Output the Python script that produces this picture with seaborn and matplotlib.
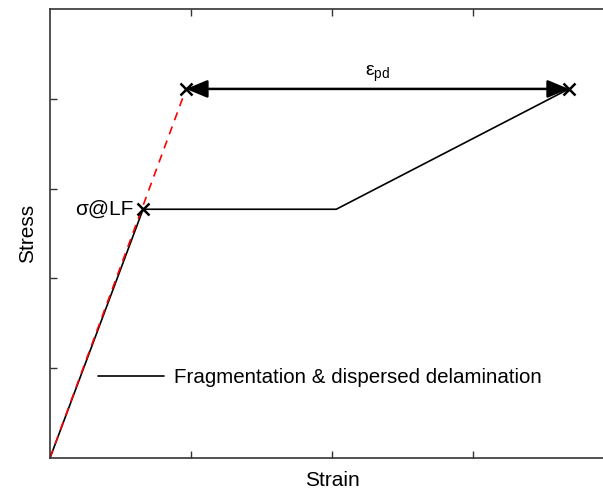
import matplotlib
matplotlib.use("Agg")
import matplotlib.pyplot as plt
import seaborn as sns
import pandas as pd

# Stress-strain response (arbitrary units)
strain_response = [0.0, 0.66, 2.03, 3.68]
stress_response = [0.0, 2.77, 2.77, 4.11]

# Linear-elastic extrapolation
strain_elastic = [0.0, 0.965]
stress_elastic = [0.0, 4.11]

# Marked points: first fragmentation, elastic limit, final failure
mark_strain = [0.66, 0.965, 3.68]
mark_stress = [2.77, 4.11, 4.11]

x_ticks = [1, 2, 3]
y_ticks = [1, 2, 3, 4]

sns.set_style("ticks")
plt.rcParams["font.family"] = ["Liberation Sans", "DejaVu Sans"]
plt.rcParams["text.color"] = "black"
plt.rcParams["axes.labelcolor"] = "black"

fig = plt.figure(figsize=(6.03, 4.91), dpi=100)
ax = fig.add_axes([50 / 603, 33 / 491, 564 / 603, 449 / 491])

resp = pd.DataFrame({"strain": strain_response, "stress": stress_response})
elas = pd.DataFrame({"strain": strain_elastic, "stress": stress_elastic})

sns.lineplot(data=resp, x="strain", y="stress", sort=False, color="black",
             lw=1.2, ax=ax, label="Fragmentation & dispersed delamination")
sns.lineplot(data=elas, x="strain", y="stress", sort=False, color="#ff0000",
             lw=1.2, ax=ax, dashes=False, legend=False)
ax.lines[-1].set_linestyle((0, (5, 4)))

ax.plot(mark_strain, mark_stress, ls="none", marker="x", ms=9, mew=1.8,
        color="black", zorder=5)

ax.annotate("", xy=(mark_strain[2], mark_stress[2]),
            xytext=(mark_strain[1], mark_stress[1]),
            arrowprops=dict(arrowstyle="<|-|>,head_length=0.65,head_width=0.27",
                            color="black", lw=1.8,
                            mutation_scale=20, shrinkA=0, shrinkB=0))
ax.text((mark_strain[1] + mark_strain[2]) / 2, mark_stress[1] + 0.06,
        r"ε$_\mathregular{pd}$", ha="center", va="bottom", fontsize=14)
ax.text(mark_strain[0] - 0.07, mark_stress[0], "σ@LF", ha="right",
        va="center", fontsize=15)

ax.set_xlim(0, 4)
ax.set_ylim(0, 5)
ax.set_xticks(x_ticks)
ax.set_yticks(y_ticks)
ax.set_xticklabels([])
ax.set_yticklabels([])
ax.tick_params(direction="in", length=5, width=1, top=True, right=True,
               color="#333333")
for s in ax.spines.values():
    s.set_visible(True)
    s.set_color("#333333")
    s.set_linewidth(1.2)

ax.set_xlabel("Strain", fontsize=15, labelpad=6)
ax.set_ylabel("Stress", fontsize=15, labelpad=6)

leg = ax.legend(loc="upper left", bbox_to_anchor=(0.052, 0.242), frameon=False,
                fontsize=14.8, handlelength=3.2, handletextpad=0.5)

fig.savefig("out.png", dpi=100)
